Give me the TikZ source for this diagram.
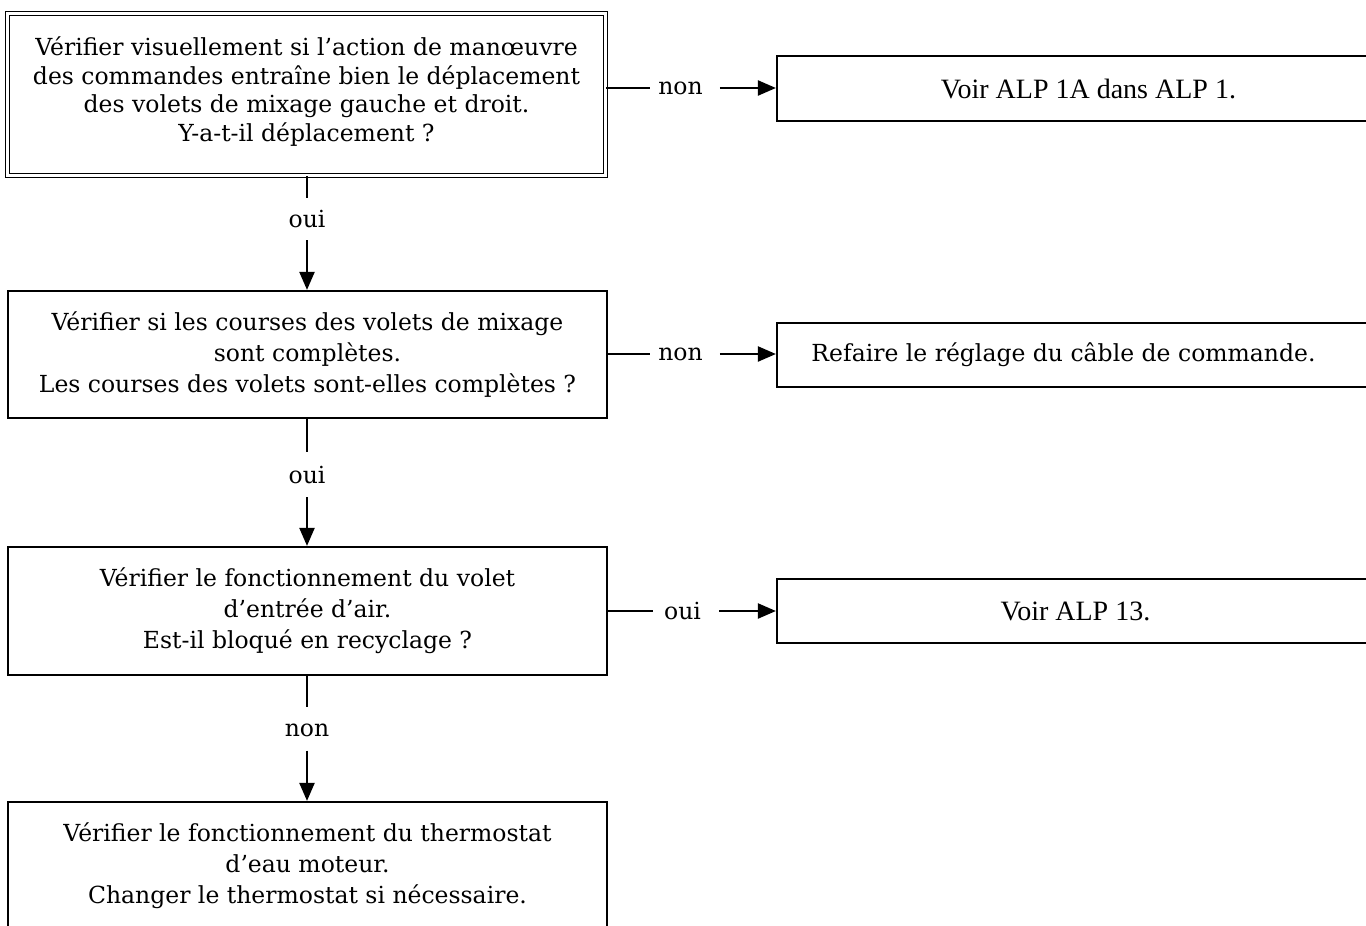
\documentclass[tikz,border=0pt]{standalone}
\usepackage{fontspec}
\setmainfont{DejaVu Serif}
\newfontfamily\timesfont{Liberation Serif}
\usetikzlibrary{arrows.meta}
\begin{document}
\begin{tikzpicture}[x=1pt,y=-1pt,
  box/.style={draw, line width=2.2pt, inner sep=0pt, align=center,
    font=\fontsize{23.5}{31}\selectfont},
  dbox/.style={draw, line width=1.5pt, double, double distance=2.2pt, inner sep=0pt, align=center,
    font=\fontsize{23.5}{28.5}\selectfont},
  tbox/.style={box, font=\timesfont\fontsize{28}{30}\selectfont},
  lab/.style={inner sep=0pt, font=\fontsize{23.5}{28}\selectfont},
  conn/.style={line width=2.2pt},
  arr/.style={line width=2.2pt, -{Triangle[length=18pt,width=15pt]}}]
\useasboundingbox (0,0) rectangle (1366,926);

% left column
\node[dbox, minimum width=598pt, minimum height=162pt, text depth=10.5pt] (b1) at (306.5,94.5)
  {Vérifier visuellement si l’action de manœuvre\\
   des commandes entraîne bien le déplacement\\
   des volets de mixage gauche et droit.\\
   Y-a-t-il déplacement ?};
\node[box, minimum width=599pt, minimum height=127pt] (b2) at (307.5,354.5)
  {Vérifier si les courses des volets de mixage\\
   sont complètes.\\
   Les courses des volets sont-elles complètes ?};
\node[box, minimum width=599pt, minimum height=128pt] (b3) at (307.5,611)
  {Vérifier le fonctionnement du volet\\
   d’entrée d’air.\\
   Est-il bloqué en recyclage ?};
\node[box, minimum width=599pt, minimum height=128pt] (b4) at (307.5,866)
  {Vérifier le fonctionnement du thermostat\\
   d’eau moteur.\\
   Changer le thermostat si nécessaire.};

% right column
\node[tbox, minimum width=623pt, minimum height=65pt] (r1) at (1088.5,88.5)
  {Voir ALP 1A dans ALP 1.};
\node[box, minimum width=623pt, minimum height=64pt] (r2) at (1088.5,355)
  {Refaire le réglage du câble de commande.\hspace*{50pt}};
\node[tbox, minimum width=623pt, minimum height=64pt] (r3) at (1088.5,611)
  {Voir ALP 13.\hspace*{26pt}};

% horizontal labels
\node[lab] (h1) at (680.5,88) {non};
\node[lab] (h2) at (680.5,354) {non};
\node[lab] (h3) at (682.5,611) {oui};

\draw[conn] (b1.east |- h1.west) -- ([xshift=-8pt]h1.west);
\draw[arr] ([xshift=17pt]h1.east) -- (r1.west |- h1.east);
\draw[conn] (b2.east |- h2.west) -- ([xshift=-8pt]h2.west);
\draw[arr] ([xshift=17pt]h2.east) -- (r2.west |- h2.east);
\draw[conn] (b3.east |- h3.west) -- ([xshift=-11pt]h3.west);
\draw[arr] ([xshift=18pt]h3.east) -- (r3.west |- h3.east);

% vertical labels
\node[lab] (v1) at (307,219) {oui};
\node[lab] (v2) at (307,475) {oui};
\node[lab] (v3) at (307,730) {non};

\draw[conn] (b1.south -| v1.north) -- ([yshift=12pt]v1.north);
\draw[arr] ([yshift=-12pt]v1.south) -- (b2.north -| v1.south);
\draw[conn] (b2.south -| v2.north) -- ([yshift=14pt]v2.north);
\draw[arr] ([yshift=-13pt]v2.south) -- (b3.north -| v2.south);
\draw[conn] (b3.south -| v3.north) -- ([yshift=16pt]v3.north);
\draw[arr] ([yshift=-14pt]v3.south) -- (b4.north -| v3.south);
\end{tikzpicture}
\end{document}
